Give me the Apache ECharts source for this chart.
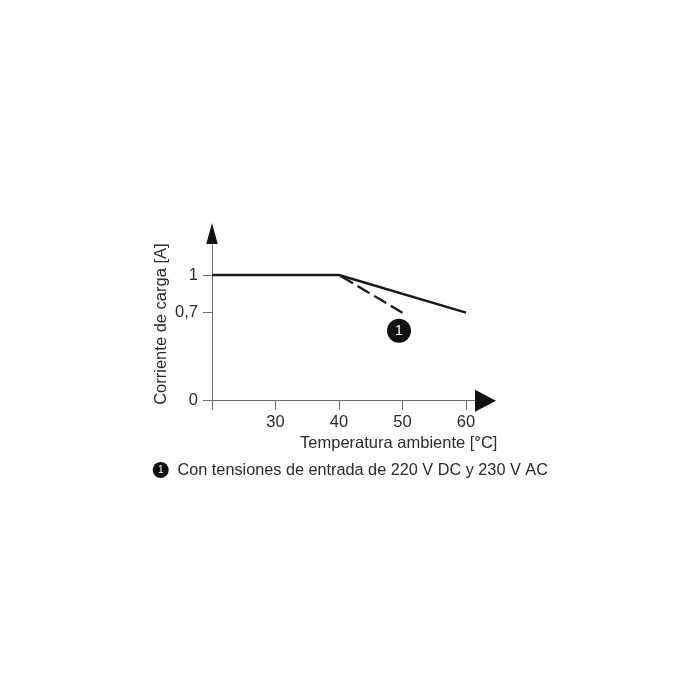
<!DOCTYPE html>
<html><head><meta charset="utf-8">
<script src="https://cdn.jsdelivr.net/npm/echarts@6/dist/echarts.min.js"></script>
<style>html,body{margin:0;padding:0;background:#fff}#c{width:700px;height:700px}</style>
</head><body><div id="c"></div>
<script>
const xTicks = [20, 30, 40, 50, 60];
const xLabels = [30, 40, 50, 60];
const yTicks = [0, 0.7, 1];
const xMin = 20, xMax = 63.07, yMin = 0, yMax = 1.33;
const solidLine = [[20, 1], [40, 1], [60, 0.7]];
const dashedLine = [[40, 1], [50, 0.7]];
const calloutPoint = [[49.45, 0.557]];
const calloutText = '1';
const xTitle = 'Temperatura ambiente [°C]';
const yTitle = 'Corriente de carga [A]';
const noteText = 'Con tensiones de entrada de 220 V DC y 230 V AC';
const font = '"Liberation Sans", Arial, sans-serif';
const ink = '#2b2b2b', axisInk = '#6e6e6e', lineInk = '#1a1a1a', markInk = '#111';

const chart = echarts.init(document.getElementById('c'), null, {renderer: 'canvas'});
chart.setOption({
  animation: false,
  backgroundColor: '#fff',
  grid: {left: 212, top: 233.5, width: 273.5, height: 167.2, containLabel: false},
  xAxis: {
    type: 'value', min: xMin, max: xMax, splitLine: {show: false},
    name: xTitle, nameLocation: 'middle', nameGap: 34,
    nameTextStyle: {color: ink, fontFamily: font, fontSize: 16.5, padding: [0, 0, 0, 100]},
    axisLine: {onZero: false, lineStyle: {color: axisInk, width: 1}},
    axisTick: {length: 9, lineStyle: {color: axisInk, width: 1}, customValues: xTicks},
    axisLabel: {color: ink, fontFamily: font, fontSize: 16.5, margin: 13, customValues: xLabels}
  },
  yAxis: {
    type: 'value', min: yMin, max: yMax, splitLine: {show: false},
    name: yTitle, nameLocation: 'middle', nameGap: 42, nameRotate: 90,
    nameTextStyle: {color: ink, fontFamily: font, fontSize: 16.5, padding: [0, 14, 0, 0]},
    axisLine: {onZero: false, lineStyle: {color: axisInk, width: 1}},
    axisTick: {length: 9, lineStyle: {color: axisInk, width: 1}, customValues: yTicks},
    axisLabel: {color: ink, fontFamily: font, fontSize: 16.5, margin: 14, padding: [3, 0, 0, 0], customValues: yTicks,
      formatter: v => String(v).replace('.', ',')}
  },
  series: [
    {type: 'line', data: solidLine, symbol: 'none', silent: true, z: 3,
      lineStyle: {color: lineInk, width: 2.4}},
    {type: 'line', data: dashedLine, symbol: 'none', silent: true, z: 3,
      lineStyle: {color: lineInk, width: 2.3, type: [14, 5.3], dashOffset: 17}},
    {type: 'scatter', data: calloutPoint, symbol: 'circle', symbolSize: 24, silent: true, z: 4,
      itemStyle: {color: markInk, opacity: 1},
      label: {show: true, position: 'inside', formatter: calloutText, color: '#fff', fontFamily: font, fontSize: 14}},
    {type: 'scatter', data: [[xMax, yMin]], symbol: 'triangle', symbolRotate: -90, symbolSize: [22, 21], clip: false, silent: true, z: 4,
      itemStyle: {color: markInk, opacity: 1}},
    {type: 'scatter', data: [[xMin, yMax]], symbol: 'triangle', symbolSize: [11.5, 21], clip: false, silent: true, z: 4,
      itemStyle: {color: markInk, opacity: 1}}
  ],
  graphic: [
    {type: 'circle', shape: {cx: 160.7, cy: 470, r: 8}, style: {fill: markInk}},
    {type: 'text', x: 160.7, y: 470, style: {text: calloutText, fill: '#fff', font: '10px ' + font, align: 'center', verticalAlign: 'middle'}},
    {type: 'text', x: 177.5, y: 471, style: {text: noteText, fill: ink, font: '16.25px ' + font, align: 'left', verticalAlign: 'middle'}}
  ]
});
</script></body></html>
